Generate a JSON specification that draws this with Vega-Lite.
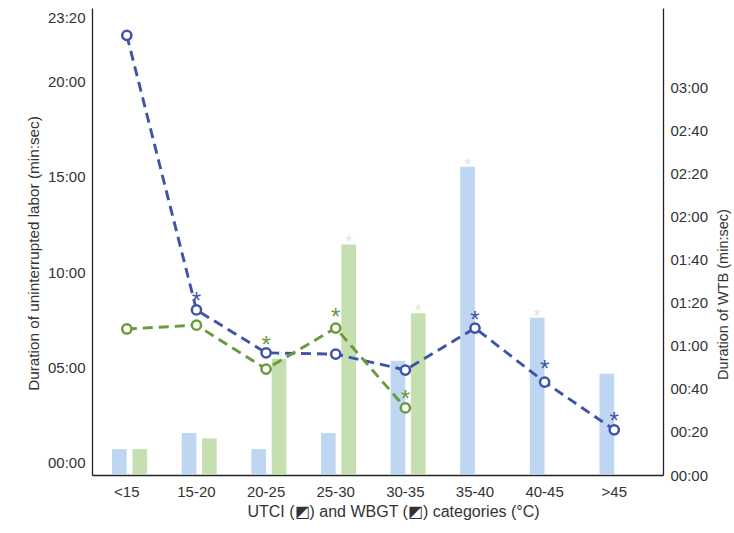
{
  "$schema": "https://vega.github.io/schema/vega-lite/v6.json",
  "width": 571,
  "height": 467,
  "autosize": {"type": "none"},
  "padding": {"left": 92, "top": 8, "right": 71, "bottom": 58},
  "background": "white",
  "config": {
    "view": {"stroke": null},
    "font": "Liberation Sans",
    "axis": {
      "labelFont": "Liberation Sans",
      "titleFont": "Liberation Sans",
      "labelFontSize": 15,
      "titleFontSize": 16,
      "titleFontWeight": "normal",
      "labelColor": "#333333",
      "titleColor": "#333333",
      "domainColor": "#222222",
      "domainWidth": 1.3,
      "ticks": false,
      "grid": false
    }
  },
  "datasets": {
    "bars": [
      {"cat": "<15", "series": "UTCI", "value": 12, "sig": false},
      {"cat": "<15", "series": "WBGT", "value": 12, "sig": false},
      {"cat": "15-20", "series": "UTCI", "value": 19.5, "sig": false},
      {"cat": "15-20", "series": "WBGT", "value": 17, "sig": false},
      {"cat": "20-25", "series": "UTCI", "value": 12, "sig": false},
      {"cat": "20-25", "series": "WBGT", "value": 54, "sig": true},
      {"cat": "25-30", "series": "UTCI", "value": 19.5, "sig": false},
      {"cat": "25-30", "series": "WBGT", "value": 107, "sig": true},
      {"cat": "30-35", "series": "UTCI", "value": 53, "sig": false},
      {"cat": "30-35", "series": "WBGT", "value": 75, "sig": true},
      {"cat": "35-40", "series": "UTCI", "value": 143, "sig": true},
      {"cat": "40-45", "series": "UTCI", "value": 73, "sig": true},
      {"cat": ">45", "series": "UTCI", "value": 47, "sig": false}
    ],
    "lines": [
      {"cat": "<15", "series": "UTCI", "value": 1344, "star": null},
      {"cat": "15-20", "series": "UTCI", "value": 481, "star": 492},
      {"cat": "20-25", "series": "UTCI", "value": 346, "star": null},
      {"cat": "25-30", "series": "UTCI", "value": 342, "star": null},
      {"cat": "30-35", "series": "UTCI", "value": 292, "star": null},
      {"cat": "35-40", "series": "UTCI", "value": 424, "star": 435},
      {"cat": "40-45", "series": "UTCI", "value": 254, "star": 278},
      {"cat": ">45", "series": "UTCI", "value": 104, "star": 115},
      {"cat": "<15", "series": "WBGT", "value": 421, "star": null},
      {"cat": "15-20", "series": "WBGT", "value": 433, "star": null},
      {"cat": "20-25", "series": "WBGT", "value": 295, "star": 356},
      {"cat": "25-30", "series": "WBGT", "value": 424, "star": 444},
      {"cat": "30-35", "series": "WBGT", "value": 173, "star": 184}
    ]
  },
  "encoding": {
    "x": {
      "field": "cat",
      "type": "nominal",
      "sort": ["<15", "15-20", "20-25", "25-30", "30-35", "35-40", "40-45", ">45"],
      "scale": {"type": "band", "paddingInner": 0, "paddingOuter": 0.1, "align": 0},
      "axis": {
        "title": "UTCI (◩) and WBGT (◩) categories (°C)",
        "labelAngle": 0,
        "labelPadding": 9,
        "titlePadding": 4,
        "titleX": 301
      }
    }
  },
  "layer": [
    {
      "data": {"name": "bars"},
      "encoding": {
        "y": {
          "field": "value",
          "type": "quantitative",
          "scale": {"domain": [0, 216.7], "nice": false, "zero": false},
          "axis": {
            "orient": "right",
            "values": [0, 20, 40, 60, 80, 100, 120, 140, 160, 180],
            "labelExpr": "'0' + floor(datum.value/60) + ':' + (datum.value%60 < 10 ? '0' : '') + (datum.value%60)",
            "title": "Duration of  WTB (min:sec)",
            "titleFontSize": 14.5,
            "titleAngle": 270,
            "titleBaseline": "top",
            "titleY": 286,
            "labelPadding": 7,
            "titlePadding": 9
          }
        }
      },
      "layer": [
        {
          "mark": {"type": "bar", "opacity": 0.85},
          "encoding": {
            "xOffset": {
              "field": "series",
              "type": "nominal",
              "scale": {"domain": ["UTCI", "WBGT"], "paddingInner": 0.28, "paddingOuter": 0.85, "align": 0.58}
            },
            "color": {
              "field": "series",
              "type": "nominal",
              "scale": {"domain": ["UTCI", "WBGT"], "range": ["#b3cfee", "#bcd9a3"]},
              "legend": null
            }
          }
        },
        {
          "transform": [{"filter": "datum.sig"}],
          "mark": {"type": "text", "text": "*", "fontSize": 18, "baseline": "alphabetic", "dy": 4, "opacity": 0.5},
          "encoding": {
            "xOffset": {
              "field": "series",
              "type": "nominal",
              "scale": {"domain": ["UTCI", "WBGT"], "paddingInner": 0.28, "paddingOuter": 0.85, "align": 0.58},
              "bandPosition": 0.5
            },
            "color": {
              "field": "series",
              "type": "nominal",
              "scale": {"domain": ["UTCI", "WBGT"], "range": ["#c9d9ec", "#cfe0bf"]},
              "legend": null
            }
          }
        }
      ]
    },
    {
      "data": {"name": "lines"},
      "layer": [
        {
          "mark": {"type": "line", "strokeDash": [10, 6], "strokeWidth": 2.9},
          "encoding": {
            "y": {
              "field": "value",
              "type": "quantitative",
              "scale": {"domain": [-38, 1430], "nice": false, "zero": false},
              "axis": {
                "orient": "left",
                "values": [0, 300, 600, 900, 1200, 1400],
                "labelExpr": "(floor(datum.value/60) < 10 ? '0' : '') + floor(datum.value/60) + ':' + (datum.value%60 < 10 ? '0' : '') + (datum.value%60)",
                "title": "Duration of uninterrupted labor (min:sec)",
                "titleFontSize": 15.3,
                "labelPadding": 7,
                "titlePadding": 6,
                "titleY": 245
              }
            },
            "color": {
              "field": "series",
              "type": "nominal",
              "scale": {"domain": ["UTCI", "WBGT"], "range": ["#3f54a9", "#6a9a3c"]},
              "legend": null
            },
            "detail": {"field": "series"}
          }
        },
        {
          "mark": {"type": "point", "shape": "circle", "filled": false, "fill": "white", "fillOpacity": 1, "size": 85, "strokeWidth": 2.5, "opacity": 1},
          "encoding": {
            "y": {"field": "value", "type": "quantitative"},
            "color": {"field": "series", "type": "nominal", "legend": null}
          }
        },
        {
          "transform": [{"filter": "datum.star != null"}],
          "mark": {"type": "text", "text": "*", "fontSize": 24, "baseline": "alphabetic", "dy": 3},
          "encoding": {
            "y": {"field": "star", "type": "quantitative"},
            "color": {"field": "series", "type": "nominal", "legend": null}
          }
        }
      ]
    }
  ],
  "resolve": {"scale": {"y": "independent", "color": "independent"}}
}
